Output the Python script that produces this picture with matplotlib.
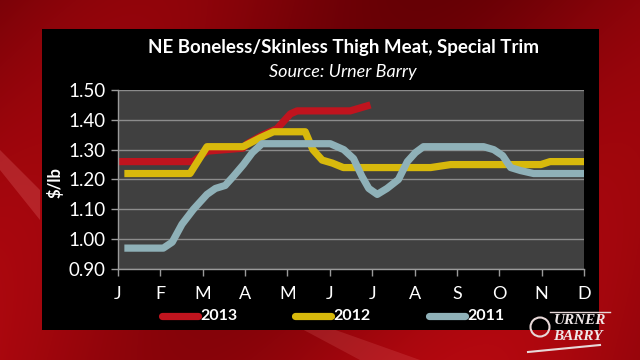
import numpy as np
import matplotlib
matplotlib.use("Agg")
import matplotlib.pyplot as plt
from matplotlib.patches import Rectangle, Polygon, Circle

# ---- data (month index: 0 = Jan ... 11 = Dec) ----
months = ["J", "F", "M", "A", "M", "J", "J", "A", "S", "O", "N", "D"]
yticks = [0.90, 1.00, 1.10, 1.20, 1.30, 1.40, 1.50]

x2013 = [0, 1.77, 2.1, 2.95, 3.05, 3.43, 3.75, 4.07, 4.23, 5.48, 5.96]
y2013 = [1.26, 1.26, 1.295, 1.305, 1.32, 1.35, 1.37, 1.42, 1.43, 1.43, 1.45]

x2012 = [0.15, 1.70, 2.1, 2.95, 3.36, 3.67, 4.42, 4.6, 4.82, 5.06, 5.32,
         7.38, 7.85, 9.98, 10.2, 11]
y2012 = [1.22, 1.22, 1.31, 1.31, 1.34, 1.36, 1.36, 1.30, 1.265, 1.255, 1.24,
         1.24, 1.25, 1.25, 1.26, 1.26]

x2011 = [0.15, 1.07, 1.28, 1.51, 1.78, 2.1, 2.3, 2.53, 2.72, 2.96, 3.17, 3.4,
         5.01, 5.33, 5.56, 5.76, 5.92, 6.12, 6.35, 6.62, 6.83, 7.02, 7.21,
         8.63, 8.87, 9.08, 9.27, 9.5, 9.81, 11]
y2011 = [0.97, 0.97, 0.99, 1.05, 1.10, 1.15, 1.17, 1.18, 1.21, 1.25, 1.29, 1.32,
         1.32, 1.30, 1.27, 1.21, 1.17, 1.15, 1.17, 1.20, 1.26, 1.29, 1.31,
         1.31, 1.30, 1.28, 1.24, 1.23, 1.22, 1.22]

series = [("2013", x2013, y2013, "#c0141e"),
          ("2012", x2012, y2012, "#d8b90c"),
          ("2011", x2011, y2011, "#8fb1b8")]

W, H = 640, 360
fig = plt.figure(figsize=(6.4, 3.6), dpi=100)

# background (red gradient with streaks)
bg = fig.add_axes([0, 0, 1, 1])
bg.set_xlim(0, W); bg.set_ylim(H, 0); bg.axis("off")
yy, xx = np.mgrid[0:H, 0:W]
t = (0.5 + 0.5 * np.sin(xx / 90.0 + yy / 140.0)) * 0.45 + 0.35 * (yy / H)
base = np.array([0.40, 0.0, 0.02])
hi = np.array([0.78, 0.04, 0.07])
img = base[None, None, :] * (1 - t[..., None]) + hi[None, None, :] * t[..., None]
bg.imshow(img, extent=[0, W, H, 0], aspect="auto", zorder=0)
bg.add_patch(Polygon([[0, 150], [40, 190], [40, 220], [0, 170]], closed=True,
                     facecolor=(1, 0.6, 0.6, 0.2), edgecolor="none", zorder=1))
bg.add_patch(Polygon([[300, 328], [360, 360], [420, 360], [330, 328]], closed=True,
                     facecolor=(1, 0.6, 0.6, 0.15), edgecolor="none", zorder=1))
# black panel
bg.add_patch(Rectangle((42, 29), 557, 301, facecolor="black", edgecolor="none", zorder=2))

# texts
fig.text(343 / W, 1 - 47 / H, "NE Boneless/Skinless Thigh Meat, Special Trim",
         color="white", fontsize=13.5, fontweight="bold", family="Lato",
         ha="center", va="center")
fig.text(343 / W, 1 - 72 / H, "Source: Urner Barry", color="white", fontsize=13,
         style="italic", family="Lato", ha="center", va="center")
fig.text(55 / W, 1 - 183 / H, "$/lb", color="white", fontsize=12, fontweight="bold",
         family="Lato", rotation=90, ha="center", va="center")

# main axes
ax = fig.add_axes([118 / W, 1 - 269 / H, (584 - 118) / W, (269 - 90) / H])
ax.set_facecolor("#404040")
for lab, xs, ys, c in series:
    ax.plot(xs, ys, color=c, lw=5.2, solid_capstyle="butt", solid_joinstyle="round")
ax.set_xlim(0, 11)
ax.set_ylim(0.90, 1.50)
ax.set_yticks(yticks)
ax.set_yticklabels([f"{v:.2f}" for v in yticks])
ax.set_xticks(range(12))
ax.set_xticklabels(months)
ax.yaxis.grid(True, color="#8c8c8c", lw=1)
ax.set_axisbelow(True)
for s in ["top", "right"]:
    ax.spines[s].set_visible(False)
for s in ["left", "bottom"]:
    ax.spines[s].set_color("#9a9a9a")
    ax.spines[s].set_linewidth(1)
ax.tick_params(axis="both", colors="#9a9a9a", length=5, width=1)
ax.tick_params(axis="y", labelcolor="white", labelsize=13.5, pad=4)
ax.tick_params(axis="x", labelcolor="white", labelsize=13, pad=7)
for lbl in ax.get_xticklabels() + ax.get_yticklabels():
    lbl.set_family("Lato")

# legend (manual, in pixel coords on background axes)
leg_pos = [(162, 198), (295, 331), (429, 465)]
for (lab, xs, ys, c), (x0, x1) in zip(series, leg_pos):
    bg.plot([x0, x1], [316, 316], color=c, lw=5.2, solid_capstyle="round", zorder=3)
    bg.text(x1 + 2, 316, lab, color="white", fontsize=11.5, fontweight="bold",
            family="Lato", ha="left", va="center", zorder=3)

# logo
bg.add_patch(Circle((540, 327), 9.5, facecolor="none", edgecolor="#e8d8d8", lw=1.5, zorder=3))
bg.text(580, 321, "URNER", color="#f0e8e8", fontsize=11, fontweight="bold", style="italic",
        family="Liberation Serif", ha="center", va="center", zorder=3)
bg.text(578, 336, "BARRY", color="#f0e8e8", fontsize=11, fontweight="bold", style="italic",
        family="Liberation Serif", ha="center", va="center", zorder=3)
bg.plot([550, 610], [312, 312], color="#e8d8d8", lw=1, zorder=3)
bg.plot([528, 600], [352, 345], color="#e8d8d8", lw=1.5, zorder=3)

fig.savefig("out.png", dpi=100, facecolor="black")
